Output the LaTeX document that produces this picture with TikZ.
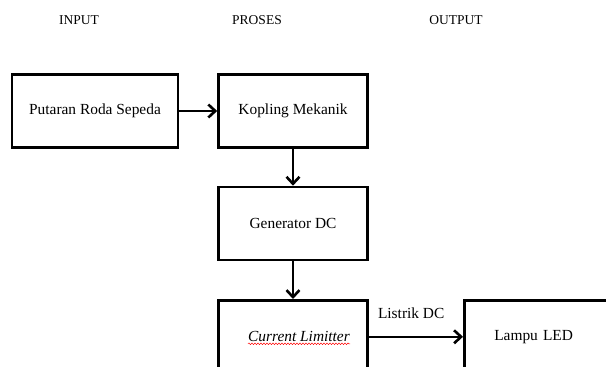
\documentclass[tikz,border=0pt]{standalone}
\usepackage{fontspec}
\setmainfont{Liberation Serif}
\usetikzlibrary{arrows.meta,decorations.pathmorphing,calc}

\tikzset{
  blok/.style={draw, line width=2.6pt, minimum width=149pt, minimum height=73pt,
    inner sep=0pt, font=\fontsize{15.4}{18}\selectfont},
  judul/.style={font=\fontsize{13.5}{16}\selectfont},
  panah/.style={-{Straight Barb[length=7pt,width=13pt]}, line width=2.6pt},
}

\begin{document}
\begin{tikzpicture}[x=1pt, y=-1pt]

  \useasboundingbox (0,0) rectangle (606,367);
  \clip (0,0) rectangle (606,367);

  % judul kolom
  \node[judul] (tin)  at (79,20)  {INPUT};
  \node[judul] (tpro) at (257,20) {PROSES};
  \node[judul] (tout) at (456,20) {OUTPUT};

  % blok
  \node[blok, minimum width=166pt] (putaran) at (95,111) {Putaran Roda Sepeda};
  \node[blok] (kopling) at (293,111) {Kopling Mekanik};
  \node[blok] (gen) at (293,223.5) {Generator DC};
  \node[blok, anchor=north] (cl) at (293,299) {\hspace*{12pt}\textit{Current Limitter}};
  \node[blok, anchor=north west, text width=120pt, align=left, inner xsep=30pt] (led) at (463,299) {Lampu LED};

  % panah
  \draw[panah] (putaran) -- (kopling);
  \draw[panah] (kopling) -- (gen);
  \draw[panah] (gen) -- (cl);
  \draw[panah] (cl) -- node[pos=0.45, above=17pt, inner sep=0pt,
    font=\fontsize{15.4}{18}\selectfont] (listrik) {Listrik DC} (led);

  % garis merah ejaan
  \draw[red, line width=0.5pt, decorate, decoration={snake, amplitude=0.8pt, segment length=3pt}]
    ($(cl.center)+(-45,7)$) -- ($(cl.center)+(57,7)$);

\end{tikzpicture}
\end{document}
